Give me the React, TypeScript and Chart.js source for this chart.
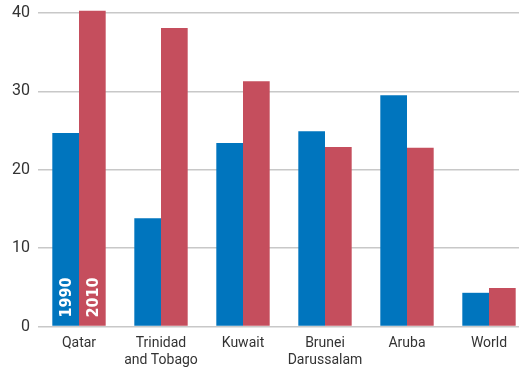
import React, { useEffect, useRef } from "react";
import { Chart, registerables } from "chart.js";

Chart.register(...registerables);

const categories: (string | string[])[] = [
  "Qatar",
  ["Trinidad", "and Tobago"],
  "Kuwait",
  ["Brunei", "Darussalam"],
  "Aruba",
  "World",
];
const seriesNames = ["1990", "2010"];
const values1990 = [24.7, 13.8, 23.4, 24.9, 29.5, 4.3];
const values2010 = [40.3, 38.1, 31.3, 22.9, 22.8, 4.9];
const yTicks = [0, 10, 20, 30, 40];

const FONT = "Roboto, 'Liberation Sans', sans-serif";
const LABEL_FONT = "'DejaVu Sans Condensed', 'Liberation Sans Narrow', sans-serif";

const insideLabels = {
  id: "insideLabels",
  afterDatasetsDraw(chart: any) {
    const ctx = chart.ctx;
    const yScale = chart.scales.y;
    const base = yScale.getPixelForValue(0);
    chart.data.datasets.forEach((ds: any, i: number) => {
      const meta = chart.getDatasetMeta(i);
      const bar = meta.data[0];
      if (!bar) return;
      ctx.save();
      ctx.translate(bar.x, base - 9);
      ctx.rotate(-Math.PI / 2);
      ctx.fillStyle = "#ffffff";
      ctx.font = "bold 16px " + LABEL_FONT;
      ctx.textAlign = "left";
      ctx.textBaseline = "middle";
      ctx.fillText(ds.label, 0, 1);
      ctx.restore();
    });
  },
};

export default function App() {
  const ref = useRef<HTMLCanvasElement | null>(null);
  useEffect(() => {
    if (!ref.current) return;
    const chart = new Chart(ref.current, {
      type: "bar",
      data: {
        labels: categories,
        datasets: [
          { label: seriesNames[0], data: values1990, backgroundColor: "#0075BE", clip: false },
          { label: seriesNames[1], data: values2010, backgroundColor: "#C54E5D", clip: false },
        ],
      },
      options: {
        animation: false,
        responsive: false,
        maintainAspectRatio: false,
        layout: { padding: { top: 13, right: 0, left: 0, bottom: 0 } },
        plugins: { legend: { display: false }, tooltip: { enabled: false } },
        datasets: { bar: { categoryPercentage: 0.651, barPercentage: 1.0 } },
        scales: {
          x: {
            grid: { display: false, drawTicks: false },
            border: { display: false },
            ticks: {
              color: "#333333",
              font: { family: FONT, size: 14 },
              padding: 9,
              maxRotation: 0,
              autoSkip: false,
            },
            afterFit: (s: any) => {
              s.height = 42.5;
              s.paddingLeft = 0;
              s.paddingRight = 0;
            },
          },
          y: {
            min: 0,
            max: 40,
            afterBuildTicks: (s: any) => {
              s.ticks = yTicks.map((v) => ({ value: v }));
            },
            grid: { color: "#c8c8c8", lineWidth: 1.5, drawTicks: false },
            border: { display: false },
            ticks: {
              color: "#333333",
              font: { family: FONT, size: 16 },
              padding: 8,
            },
            afterFit: (s: any) => {
              s.width = 38;
              s.paddingTop = 0;
              s.paddingBottom = 0;
            },
          },
        },
      },
      plugins: [insideLabels],
    });
    return () => chart.destroy();
  }, []);
  return (
    <div style={{ position: "fixed", left: 0, top: 0, width: 519, height: 369, overflow: "hidden", background: "#fff" }}>
      <canvas ref={ref} width={530} height={369} style={{ display: "block", width: 530, height: 369 }} />
    </div>
  );
}
